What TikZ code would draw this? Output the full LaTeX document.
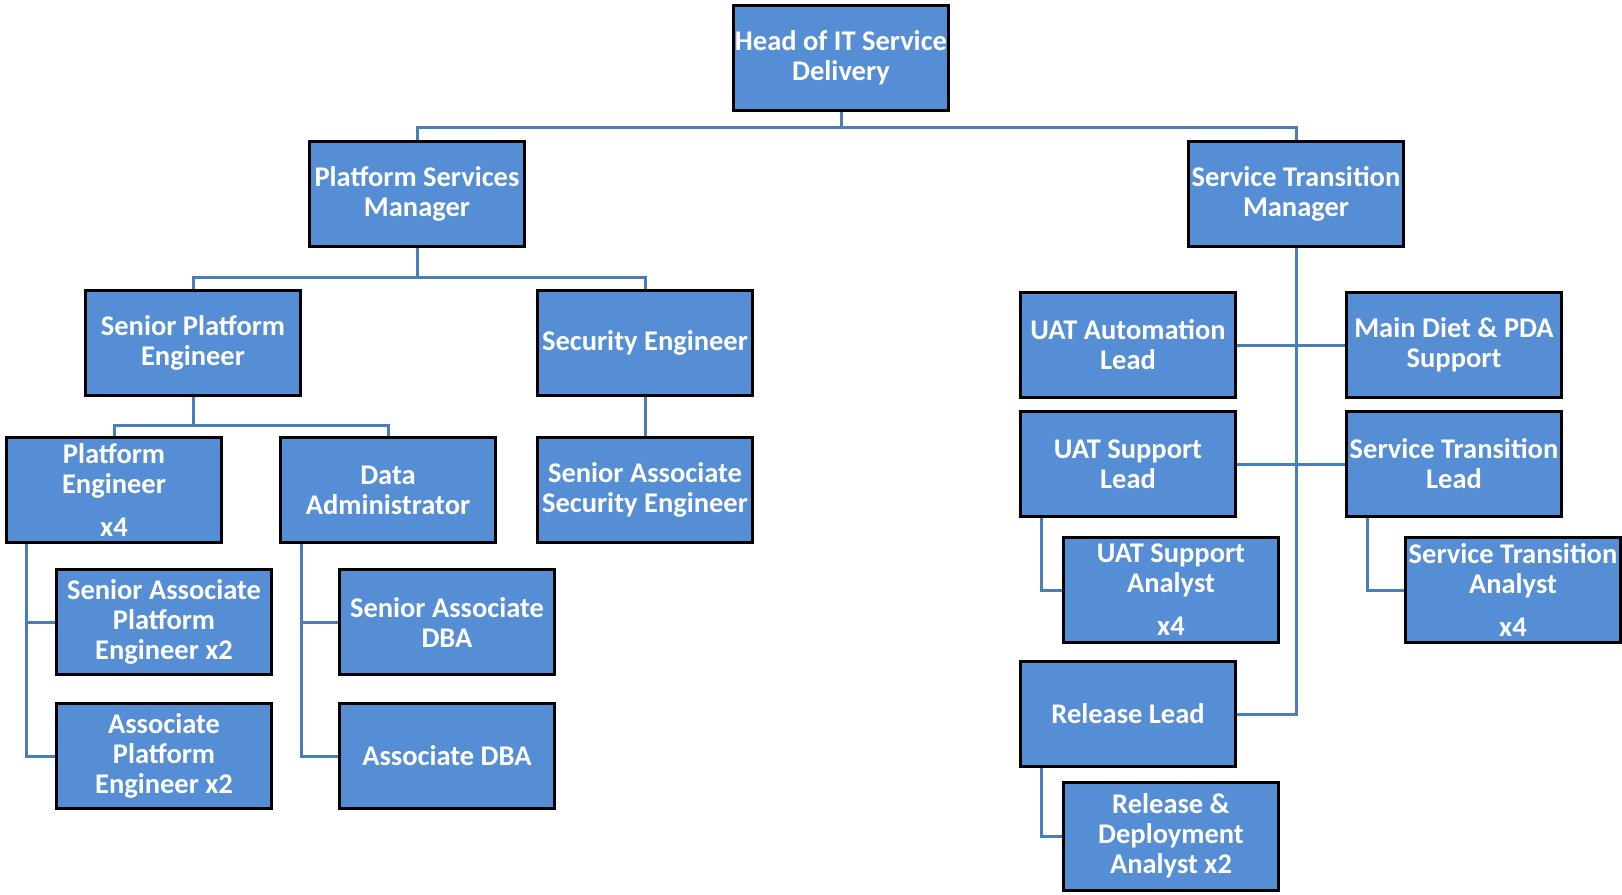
\documentclass[tikz,border=0pt]{standalone}
\usepackage{fontspec}
\setmainfont{Carlito}
\usetikzlibrary{calc}
\definecolor{boxfill}{HTML}{558ED5}
\definecolor{linkblue}{HTML}{4A7EBB}
\begin{document}
\begin{tikzpicture}[x=1pt,y=-1pt,
  role/.style={draw=black, line width=3pt, fill=boxfill, text=white,
    minimum width=215pt, minimum height=105pt, inner sep=0pt,
    align=center, font=\fontsize{28.5}{30}\selectfont\bfseries},
  conn/.style={draw=linkblue, line width=3pt}]
\useasboundingbox (0,0) rectangle (1622,894);

% boxes
\node[role] (head)  at (841,58)   {Head of IT Service\\Delivery};
\node[role] (psm)   at (417,194)  {Platform Services\\Manager};
\node[role] (stm)   at (1296,194) {Service Transition\\Manager};
\node[role] (spe)   at (193,343)  {Senior Platform\\Engineer};
\node[role] (se)    at (645,343)  {Security Engineer};
\node[role] (pe)    at (114,490)  {Platform\\Engineer\\[13pt]x4};
\node[role] (da)    at (388,490)  {Data\\Administrator};
\node[role] (sase)  at (645,490)  {Senior Associate\\Security Engineer};
\node[role] (sape)  at (164,622)  {Senior Associate\\Platform\\Engineer x2};
\node[role] (ape)   at (164,756)  {Associate\\Platform\\Engineer x2};
\node[role] (sadba) at (447,622)  {Senior Associate\\DBA};
\node[role] (adba)  at (447,756)  {Associate DBA};
\node[role] (uata)  at (1128,345) {UAT Automation\\Lead};
\node[role] (mdp)   at (1454,345) {Main Diet \& PDA\\Support};
\node[role] (uats)  at (1128,464) {UAT Support\\Lead};
\node[role] (stl)   at (1454,464) {Service Transition\\Lead};
\node[role] (uatsa) at (1171,590) {UAT Support\\Analyst\\[13pt]x4};
\node[role] (sta)   at (1513,590) {Service Transition\\Analyst\\[13pt]x4};
\node[role] (rl)    at (1128,714) {Release Lead};
\node[role, minimum height=108pt] (rda) at (1171,836) {Release \&\\Deployment\\Analyst x2};

% levels of the horizontal bars
\coordinate (bar1) at (0,127);
\coordinate (bar2) at (0,277);
\coordinate (bar3) at (0,425);

% connectors
\draw[conn] (head.south) -- (head.south |- bar1);
\draw[conn] (psm.north) -- (psm.north |- bar1) -- (stm.north |- bar1) -- (stm.north);

\draw[conn] (psm.south) -- (psm.south |- bar2);
\draw[conn] (spe.north) -- (spe.north |- bar2) -- (se.north |- bar2) -- (se.north);

\draw[conn] (spe.south) -- (spe.south |- bar3);
\draw[conn] (pe.north) -- (pe.north |- bar3) -- (da.north |- bar3) -- (da.north);

\draw[conn] (se.south) -- (sase.north);

\draw[conn] ($(pe.south west)+(21,0)$) |- (sape.west);
\draw[conn] ($(pe.south west)+(21,0)$) |- (ape.west);
\draw[conn] ($(da.south west)+(22,0)$) |- (sadba.west);
\draw[conn] ($(da.south west)+(22,0)$) |- (adba.west);

\draw[conn] (stm.south) |- (rl.east);
\draw[conn] (uata.east) -- (mdp.west);
\draw[conn] (uats.east) -- (stl.west);

\draw[conn] ($(uats.south west)+(22,0)$) |- (uatsa.west);
\draw[conn] ($(stl.south west)+(22,0)$) |- (sta.west);
\draw[conn] ($(rl.south west)+(22,0)$) |- (rda.west);
\end{tikzpicture}
\end{document}
